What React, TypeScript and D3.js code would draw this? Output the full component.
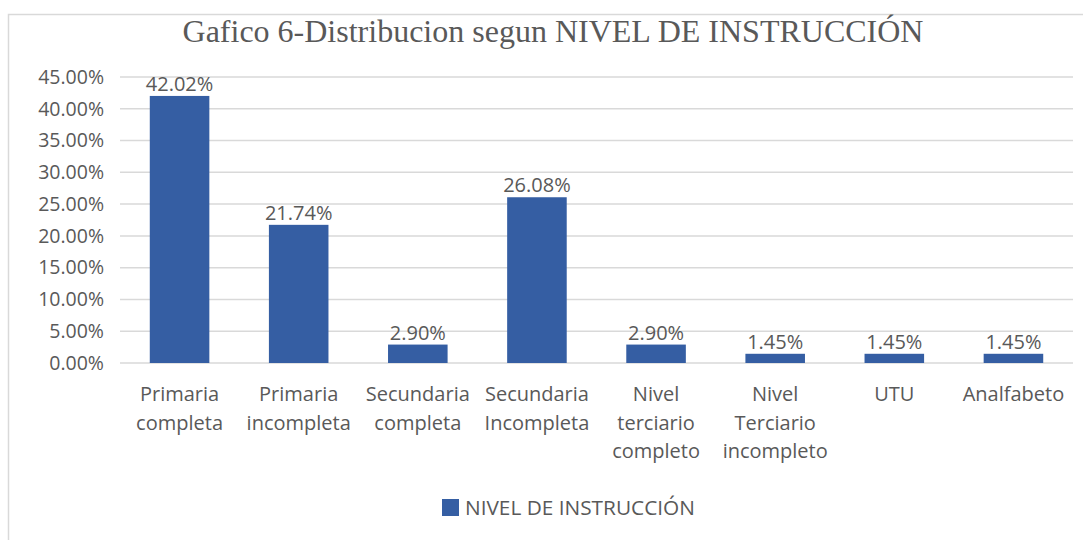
import React from "react";
import * as d3 from "d3";

const categories: string[][] = [
  ["Primaria", "completa"],
  ["Primaria", "incompleta"],
  ["Secundaria", "completa"],
  ["Secundaria", "Incompleta"],
  ["Nivel", "terciario", "completo"],
  ["Nivel", "Terciario", "incompleto"],
  ["UTU"],
  ["Analfabeto"],
];
const values: number[] = [0.4202, 0.2174, 0.029, 0.2608, 0.029, 0.0145, 0.0145, 0.0145];
const yTicks: number[] = [0, 0.05, 0.1, 0.15, 0.2, 0.25, 0.3, 0.35, 0.4, 0.45];
const title = "Gafico 6-Distribucion segun NIVEL DE INSTRUCCIÓN";
const seriesName = "NIVEL DE INSTRUCCIÓN";

const W = 1083;
const H = 540;
const BAR = "#355ea3";
const TXT = "#595959";
const FONT = "'Open Sans', sans-serif";

export default function App() {
  const keys = categories.map((_, i) => String(i));
  const x = d3.scaleBand<string>().domain(keys).range([120, 1073]).paddingInner(0.5).paddingOuter(0.25);
  const y = d3.scaleLinear().domain([0, 0.45]).range([363, 77]);
  const fmt = (v: number) => (v * 100).toFixed(2) + "%";

  return (
    <svg width={W} height={H} style={{ position: "absolute", left: 0, top: 0, background: "#fff" }}>
      <rect x={0} y={0} width={W} height={H} fill="#fff" />
      <rect x={8.5} y={14.5} width={W + 20} height={H + 20} fill="none" stroke="#d9d9d9" strokeWidth={1.5} />
      <text x={553} y={42} textAnchor="middle" fontFamily="'Liberation Serif', 'Times New Roman', serif" fontSize={32} fill={TXT}>
        {title}
      </text>
      {yTicks.map((t) => (
        <g key={t}>
          <line x1={120} x2={1073} y1={y(t)} y2={y(t)} stroke="#d9d9d9" strokeWidth={1.5} />
          <text x={104} y={y(t)} dy="0.35em" textAnchor="end" fontFamily={FONT} fontSize={19.5} fill={TXT}>
            {fmt(t)}
          </text>
        </g>
      ))}
      {values.map((v, i) => {
        const bx = x(String(i))!;
        const bw = x.bandwidth();
        return (
          <g key={i}>
            <rect x={bx} y={y(v)} width={bw} height={y(0) - y(v)} fill={BAR} />
            <text x={bx + bw / 2} y={y(v) - 5} textAnchor="middle" fontFamily={FONT} fontSize={20} fill={TXT}>
              {fmt(v)}
            </text>
            {categories[i].map((line, j) => (
              <text key={j} x={bx + bw / 2} y={401 + j * 28.5} textAnchor="middle" fontFamily={FONT} fontSize={20} fill={TXT}>
                {line}
              </text>
            ))}
          </g>
        );
      })}
      <rect x={442} y={499} width={17} height={17} fill={BAR} />
      <text x={465} y={508} dy="0.35em" fontFamily={FONT} fontSize={20.8} fill={TXT}>
        {seriesName}
      </text>
    </svg>
  );
}
